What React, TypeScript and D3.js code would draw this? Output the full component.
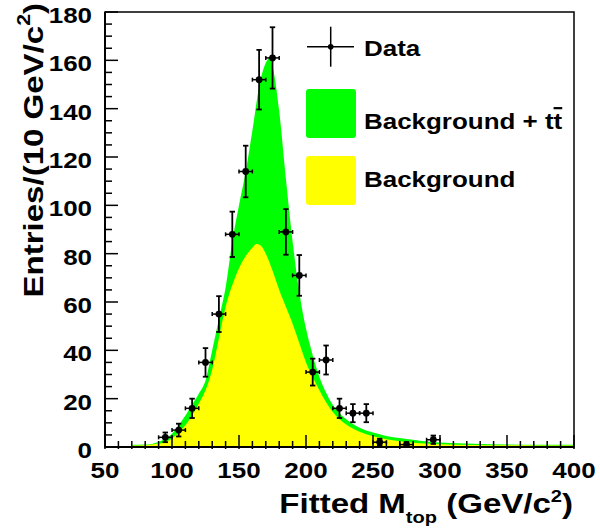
import React from "react";
import * as d3 from "d3";

// ---- Data ----
const dataX = [95, 105, 115, 125, 135, 145, 155, 165, 175, 185, 195, 205, 215, 225, 235, 245, 255, 275, 295];
const dataY = [4, 7, 16, 35, 55, 88, 114, 152, 161, 89, 71, 31, 36, 16, 14, 14, 2, 1, 3];

const totalX = [70, 80, 90, 95, 100, 105, 110, 115, 120, 125, 130, 135, 140, 145, 150, 155, 160, 165, 170, 173, 176, 180, 185, 190, 195, 200, 205, 210, 215, 220, 225, 230, 240, 250, 260, 270, 280, 290, 300, 325, 350, 375, 400];
const totalY = [0.9, 1.0, 2.1, 3.4, 5.5, 9, 13, 17.5, 22, 27.5, 40, 53, 66, 85, 100, 114, 131, 149, 159, 161, 155, 139, 111, 85, 64, 49, 38, 29, 22.5, 17.5, 14, 11.5, 8, 6, 4.6, 3.7, 3, 2.3, 1.9, 1.3, 1.05, 0.95, 0.9];

const bgX = [70, 80, 90, 95, 100, 105, 110, 115, 120, 125, 130, 135, 140, 145, 150, 155, 160, 163, 166, 170, 175, 180, 185, 190, 195, 200, 205, 210, 215, 220, 225, 230, 240, 250, 260, 270, 280, 290, 300, 325, 350, 375, 400];
const bgY = [0.6, 0.7, 1.4, 2, 3.5, 6, 9, 13, 18, 23.5, 32, 45, 58, 67, 74, 79, 82.5, 84, 83.5, 80, 73, 65, 58, 51, 43, 35, 29, 23.5, 18.5, 14.5, 11.5, 9.3, 6.3, 4.4, 3.2, 2.4, 1.8, 1.4, 1.1, 0.85, 0.7, 0.65, 0.6];

const xTickLabels = [50, 100, 150, 200, 250, 300, 350, 400];
const yTickLabels = [0, 20, 40, 60, 80, 100, 120, 140, 160, 180];

const FONT = "'Liberation Sans', Arial, Helvetica, sans-serif";
const SX = 1.18;

function T(props: any) {
  const { x, y, rotate = 0, anchor = "start", size = 22, children } = props;
  return (
    <text
      transform={`translate(${x},${y}) rotate(${rotate}) scale(${SX},1)`}
      textAnchor={anchor}
      fontSize={size}
      fontFamily={FONT}
      fontWeight="bold"
      fill="#000"
    >
      {children}
    </text>
  );
}

export default function App() {
  const W = 600, H = 529;
  const x = d3.scaleLinear().domain([50, 400]).range([105, 574]);
  const y = d3.scaleLinear().domain([0, 180]).range([447, 12]);

  const area = d3
    .area<[number, number]>()
    .x((d) => x(d[0]))
    .y0(y(0))
    .y1((d) => y(d[1]))
    .curve(d3.curveMonotoneX);

  const totalPts = totalX.map((v, i) => [v, totalY[i]] as [number, number]);
  const bgPts = bgX.map((v, i) => [v, bgY[i]] as [number, number]);

  const yMinor = d3.range(0, 181, 5);
  const xMinor = d3.range(50, 401, 10);

  return (
    <svg width={W} height={H} style={{ position: "absolute", left: 0, top: 0, background: "#fff" }}>
      <rect x={0} y={0} width={W} height={H} fill="#fff" />
      {/* curves */}
      <path d={area(totalPts) || ""} fill="#00ff00" />
      <path d={area(bgPts) || ""} fill="#ffff00" />

      {/* frame */}
      <rect x={x(50)} y={y(180)} width={x(400) - x(50)} height={y(0) - y(180)} fill="none" stroke="#000" strokeWidth={1.5} />
      <line x1={x(50)} x2={x(400)} y1={y(0)} y2={y(0)} stroke="#000" strokeWidth={2} />
      <line x1={x(50)} x2={x(50)} y1={y(0)} y2={y(180)} stroke="#000" strokeWidth={2} />

      {/* y ticks */}
      {yMinor.map((v) => (
        <line key={"yt" + v} x1={x(50)} x2={x(50) + (v % 20 === 0 ? 13 : 7)} y1={y(v)} y2={y(v)} stroke="#000" strokeWidth={1.5} />
      ))}
      {/* x ticks */}
      {xMinor.map((v) => (
        <line key={"xt" + v} x1={x(v)} x2={x(v)} y1={y(0) + 2} y2={y(0) - (v % 50 === 0 ? 12 : 6)} stroke="#000" strokeWidth={1.5} />
      ))}

      {/* tick labels */}
      {yTickLabels.map((v) => (
        <T key={"yl" + v} x={92} y={y(v) + 11} anchor="end" size={22}>
          {v}
        </T>
      ))}
      {xTickLabels.map((v) => (
        <T key={"xl" + v} x={x(v)} y={478} anchor="middle" size={22}>
          {v}
        </T>
      ))}

      {/* axis titles */}
      <T x={573} y={513} anchor="end" size={28}>
        <tspan>Fitted M</tspan>
        <tspan dy={10} fontSize={17}>top</tspan>
        <tspan dy={-10}> (GeV/c</tspan>
        <tspan dy={-11} fontSize={17}>2</tspan>
        <tspan dy={11}>)</tspan>
      </T>
      <T x={43} y={3} rotate={-90} anchor="end" size={28}>
        <tspan>Entries/(10 GeV/c</tspan>
        <tspan dy={-13} fontSize={18}>2</tspan>
        <tspan dy={13}>)</tspan>
      </T>

      {/* data points */}
      {dataX.map((xv, i) => {
        const v = dataY[i];
        const e = Math.sqrt(v);
        const cx = x(xv), cy = y(v);
        const yt = y(v + e), yb = y(v - e);
        const xl = x(xv - 5), xr = x(xv + 5);
        return (
          <g key={"d" + i} stroke="#000" strokeWidth={1.8}>
            <line x1={cx} x2={cx} y1={yt} y2={yb} />
            <line x1={cx - 2.7} x2={cx + 2.7} y1={yt} y2={yt} />
            <line x1={cx - 2.7} x2={cx + 2.7} y1={yb} y2={yb} />
            <line x1={xl} x2={xr} y1={cy} y2={cy} strokeWidth={1.5} />
            <line x1={xl} x2={xl} y1={cy - 2} y2={cy + 2} strokeWidth={1.5} />
            <line x1={xr} x2={xr} y1={cy - 2} y2={cy + 2} strokeWidth={1.5} />
            <circle cx={cx} cy={cy} r={3.4} fill="#000" stroke="none" />
          </g>
        );
      })}

      {/* legend */}
      <g>
        <line x1={307} x2={354} y1={46.7} y2={46.7} stroke="#000" strokeWidth={1.5} />
        <line x1={330.7} x2={330.7} y1={26.7} y2={66.7} stroke="#000" strokeWidth={1.5} />
        <circle cx={330.7} cy={46.7} r={2.8} fill="#000" />
        <T x={364} y={56} size={22}>Data</T>
        <rect x={306} y={89} width={50} height={49} rx={3} fill="#00ff00" />
        <T x={364} y={129} size={22}>
          <tspan>Background + t</tspan>
          <tspan style={{ textDecoration: "overline" }}>t</tspan>
        </T>
        <rect x={306} y={156} width={50} height={49} rx={3} fill="#ffff00" />
        <T x={364} y={187} size={22}>Background</T>
      </g>
    </svg>
  );
}
